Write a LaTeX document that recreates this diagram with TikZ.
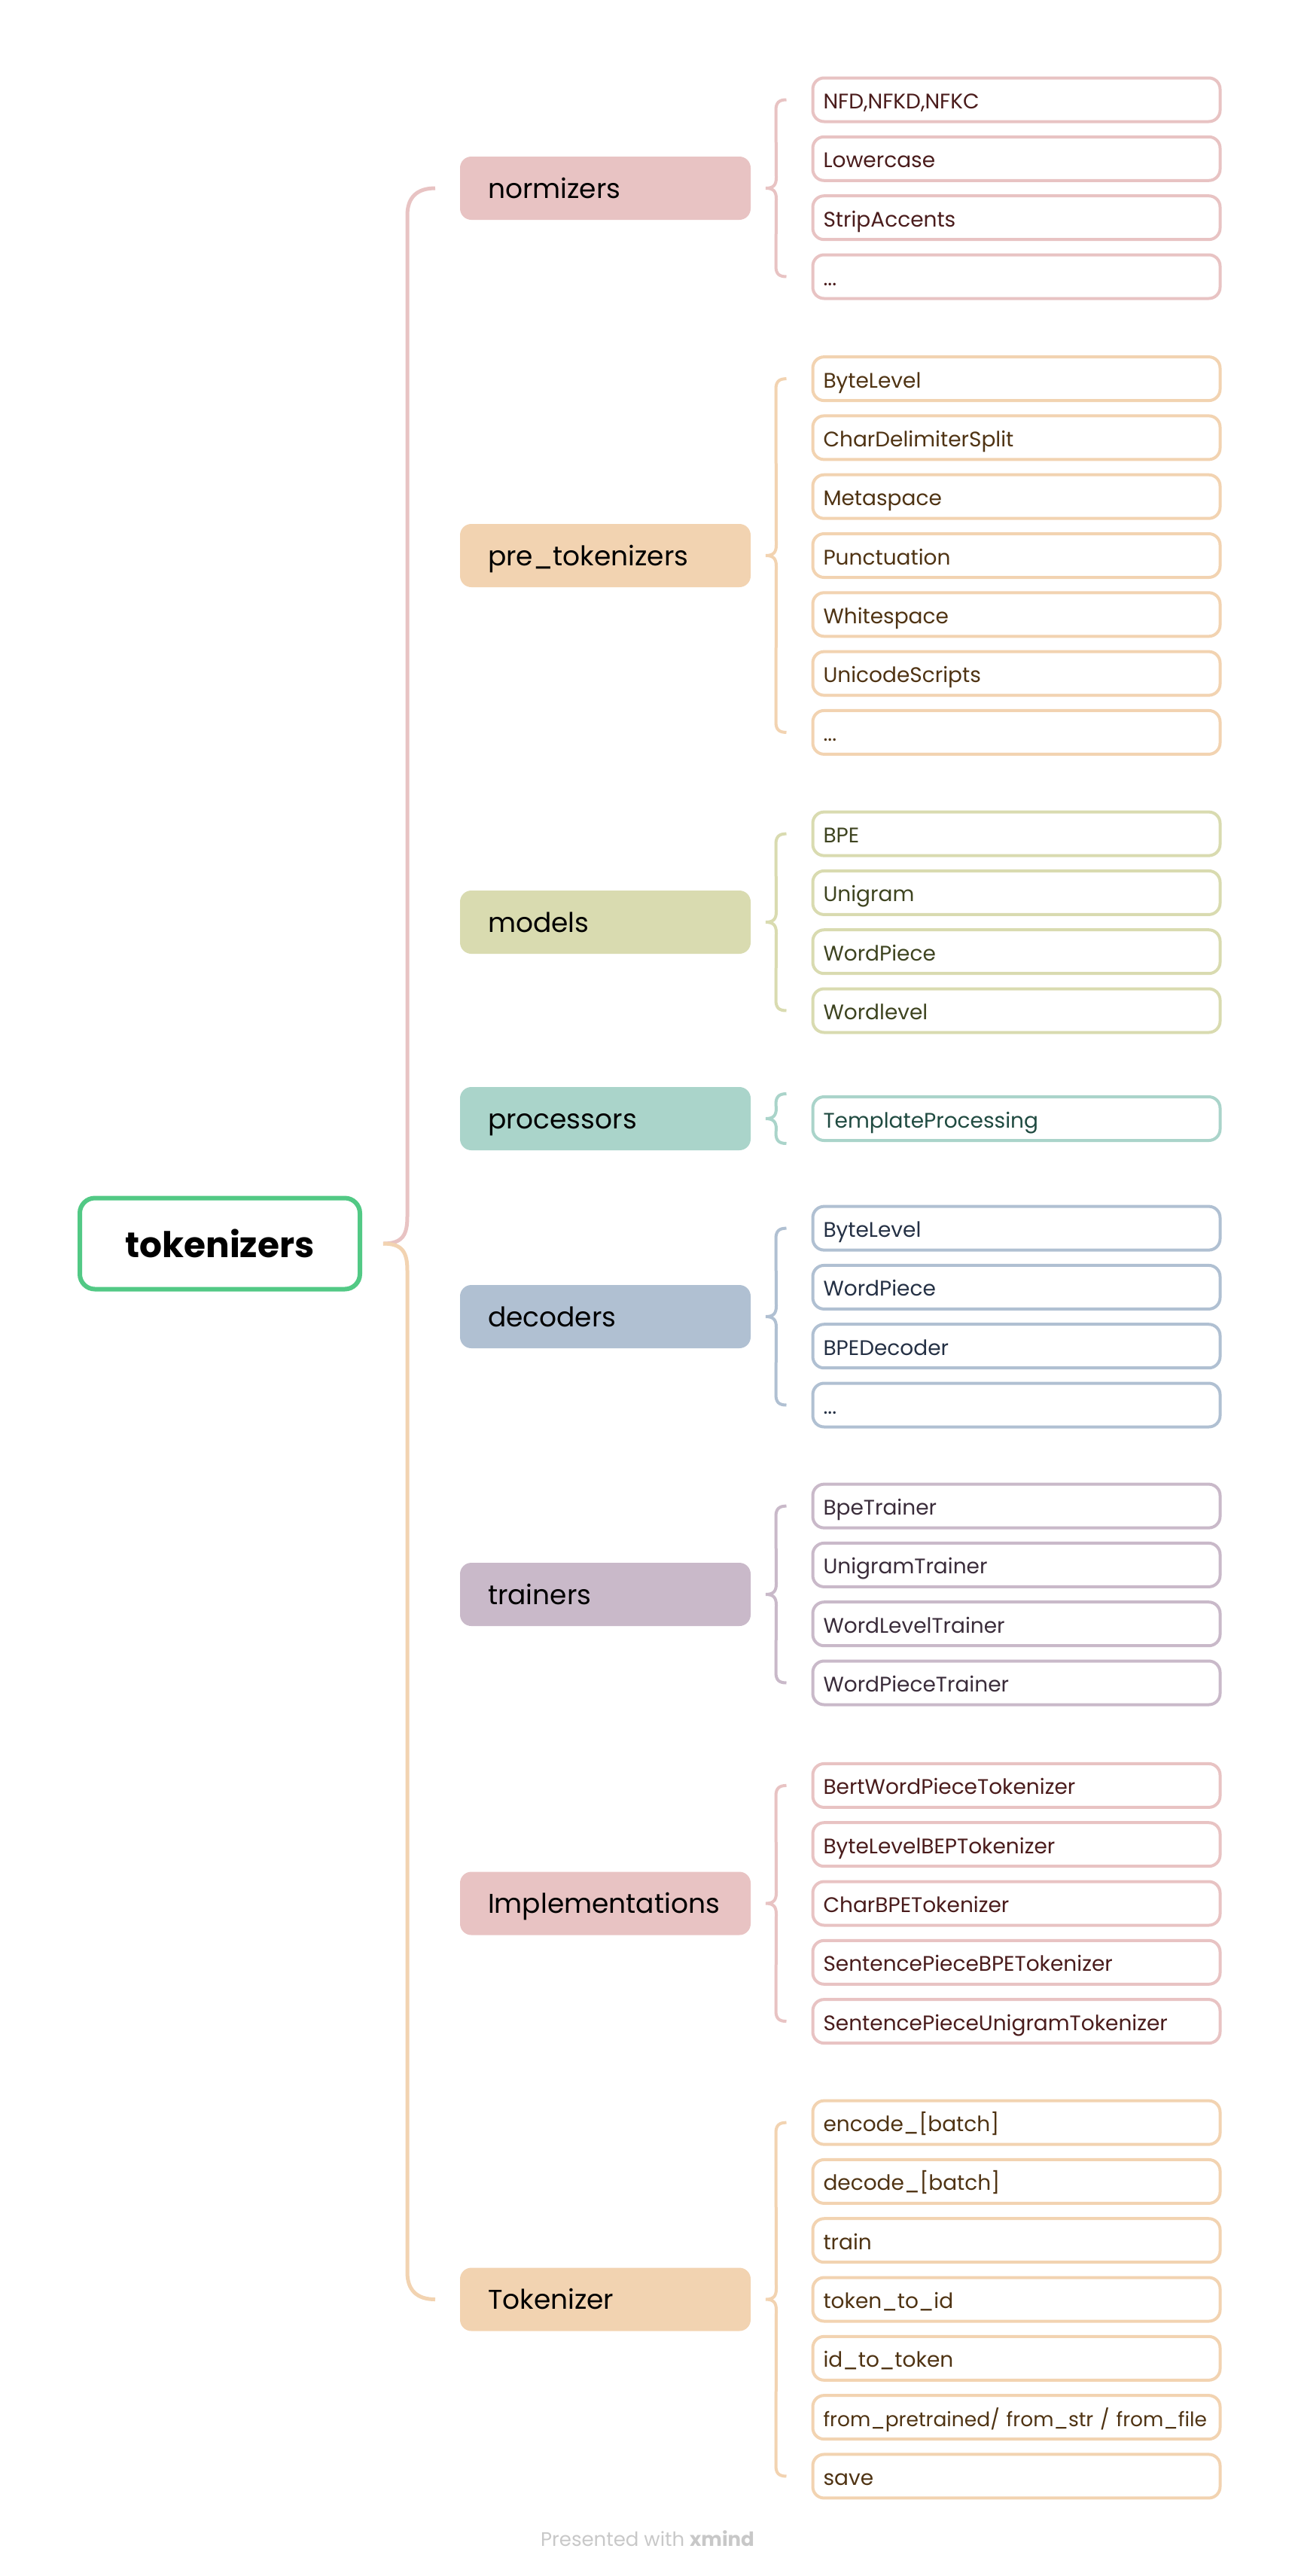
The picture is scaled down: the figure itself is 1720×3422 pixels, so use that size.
\documentclass[tikz,border=0pt]{standalone}
\usepackage{fontspec}
\setmainfont{Poppins}
\usetikzlibrary{calc}

\definecolor{rootgreen}{HTML}{52C985}
\definecolor{normcol}{HTML}{E8C3C3}
\definecolor{normtext}{HTML}{4A1C1C}
\definecolor{precol}{HTML}{F2D3B1}
\definecolor{pretext}{HTML}{4F3313}
\definecolor{modcol}{HTML}{D9DBB0}
\definecolor{modtext}{HTML}{3E4420}
\definecolor{proccol}{HTML}{AAD4CA}
\definecolor{proctext}{HTML}{1F4A40}
\definecolor{deccol}{HTML}{B0C0D2}
\definecolor{dectext}{HTML}{243044}
\definecolor{traincol}{HTML}{C9B9C9}
\definecolor{traintext}{HTML}{3A2C3A}
\definecolor{footgray}{HTML}{C8C8C8}

% brace from a category to its first and last leaf
\newcommand{\leafbrace}[4]{%
  \draw[brace, draw=#1] ($(#3)+(-33,0)$) .. controls +(-10,0) and +(0,-10) .. ($(#3)+(-47,14)$)
    -- ($(#2.east)+(34,-14)$) .. controls +(0,10) and +(10,0) .. ($(#2.east)+(20,0)$)
    .. controls +(10,0) and +(0,-10) .. ($(#2.east)+(34,14)$)
    -- ($(#4)+(-47,-14)$) .. controls +(0,10) and +(-10,0) .. ($(#4)+(-33,0)$);}

\begin{document}
\begin{tikzpicture}[x=1pt, y=-1pt,
  rootbox/.style={draw=rootgreen, line width=6pt, rounded corners=20pt, minimum width=372pt,
    minimum height=121pt, font=\fontsize{47}{56}\selectfont\bfseries},
  catbox/.style={fill=#1, rounded corners=15pt, minimum height=84pt, text width=312pt,
    text height=30pt, text depth=4pt,
    inner xsep=37pt, inner ysep=0pt, outer sep=0pt, align=left, font=\fontsize{36}{42}\selectfont},
  leafbox/.style={draw=#1, fill=white, line width=4pt, rounded corners=15pt, minimum height=58pt,
    text width=513pt, text height=26pt, text depth=2pt,
    inner xsep=14pt, inner ysep=0pt, align=left, font=\fontsize{28}{32}\selectfont},
  trunk/.style={line width=5pt},
  brace/.style={line width=4pt}]
\useasboundingbox (0,0) rectangle (1720,3422);

% root and the main branches
\node[rootbox] (root) at (292,1652) {tokenizers};
\node[catbox=normcol] (norm) at (804,250) {normizers};
\node[catbox=precol] (pretok) at (804,738) {pre\_tokenizers};
\node[catbox=modcol] (models) at (804,1225) {models};
\node[catbox=proccol] (proc) at (804,1486) {processors};
\node[catbox=deccol] (dec) at (804,1749) {decoders};
\node[catbox=traincol] (train) at (804,2118) {trainers};
\node[catbox=normcol] (impl) at (804,2528.5) {Implementations};
\node[catbox=precol] (tokzr) at (804,3054.5) {Tokenizer};

\draw[trunk, draw=normcol] ($(root.east)+(28,0)$) .. controls +(26,0) and +(0,24) .. ($(root.east)+(60,-36)$)
  -- ($(norm.west)+(-70,36)$) .. controls +(0,-24) and +(-24,0) .. ($(norm.west)+(-33,0)$);
\draw[trunk, draw=precol] ($(root.east)+(28,0)$) .. controls +(26,0) and +(0,-24) .. ($(root.east)+(60,36)$)
  -- ($(tokzr.west)+(-70,-36)$) .. controls +(0,24) and +(-24,0) .. ($(tokzr.west)+(-33,0)$);

% normizers
\node[leafbox=normcol, text=normtext] (norm1) at (1350,132.5) {NFD,NFKD,NFKC};
\node[leafbox=normcol, text=normtext] (norm2) at (1350,210.8) {Lowercase};
\node[leafbox=normcol, text=normtext] (norm3) at (1350,289.2) {StripAccents};
\node[leafbox=normcol, text=normtext] (norm4) at (1350,367.5) {...};
\leafbrace{normcol}{norm}{norm1.west}{norm4.west}

% pre_tokenizers
\node[leafbox=precol, text=pretext] (pretok1) at (1350,503.1) {ByteLevel};
\node[leafbox=precol, text=pretext] (pretok2) at (1350,581.4) {CharDelimiterSplit};
\node[leafbox=precol, text=pretext] (pretok3) at (1350,659.7) {Metaspace};
\node[leafbox=precol, text=pretext] (pretok4) at (1350,738.0) {Punctuation};
\node[leafbox=precol, text=pretext] (pretok5) at (1350,816.3) {Whitespace};
\node[leafbox=precol, text=pretext] (pretok6) at (1350,894.6) {UnicodeScripts};
\node[leafbox=precol, text=pretext] (pretok7) at (1350,972.9) {...};
\leafbrace{precol}{pretok}{pretok1.west}{pretok7.west}

% models
\node[leafbox=modcol, text=modtext] (models1) at (1350,1107.6) {BPE};
\node[leafbox=modcol, text=modtext] (models2) at (1350,1185.9) {Unigram};
\node[leafbox=modcol, text=modtext] (models3) at (1350,1264.2) {WordPiece};
\node[leafbox=modcol, text=modtext] (models4) at (1350,1342.5) {Wordlevel};
\leafbrace{modcol}{models}{models1.west}{models4.west}

% processors
\node[leafbox=proccol, text=proctext] (proc1) at (1350,1486) {TemplateProcessing};
\coordinate (proctop) at ($(proc1.west)+(0,-33)$);
\coordinate (procbot) at ($(proc1.west)+(0,33)$);
\leafbrace{proccol}{proc}{proctop}{procbot}

% decoders
\node[leafbox=deccol, text=dectext] (dec1) at (1350,1631.6) {ByteLevel};
\node[leafbox=deccol, text=dectext] (dec2) at (1350,1709.9) {WordPiece};
\node[leafbox=deccol, text=dectext] (dec3) at (1350,1788.2) {BPEDecoder};
\node[leafbox=deccol, text=dectext] (dec4) at (1350,1866.5) {...};
\leafbrace{deccol}{dec}{dec1.west}{dec4.west}

% trainers
\node[leafbox=traincol, text=traintext] (train1) at (1350,2000.6) {BpeTrainer};
\node[leafbox=traincol, text=traintext] (train2) at (1350,2078.9) {UnigramTrainer};
\node[leafbox=traincol, text=traintext] (train3) at (1350,2157.2) {WordLevelTrainer};
\node[leafbox=traincol, text=traintext] (train4) at (1350,2235.5) {WordPieceTrainer};
\leafbrace{traincol}{train}{train1.west}{train4.west}

% Implementations
\node[leafbox=normcol, text=normtext] (impl1) at (1350,2371.9) {BertWordPieceTokenizer};
\node[leafbox=normcol, text=normtext] (impl2) at (1350,2450.2) {ByteLevelBEPTokenizer};
\node[leafbox=normcol, text=normtext] (impl3) at (1350,2528.5) {CharBPETokenizer};
\node[leafbox=normcol, text=normtext] (impl4) at (1350,2606.8) {SentencePieceBPETokenizer};
\node[leafbox=normcol, text=normtext] (impl5) at (1350,2685.1) {SentencePieceUnigramTokenizer};
\leafbrace{normcol}{impl}{impl1.west}{impl5.west}

% Tokenizer
\node[leafbox=precol, text=pretext] (tokzr1) at (1350,2819.6) {encode\_[batch]};
\node[leafbox=precol, text=pretext] (tokzr2) at (1350,2897.9) {decode\_[batch]};
\node[leafbox=precol, text=pretext] (tokzr3) at (1350,2976.2) {train};
\node[leafbox=precol, text=pretext] (tokzr4) at (1350,3054.5) {token\_to\_id};
\node[leafbox=precol, text=pretext] (tokzr5) at (1350,3132.8) {id\_to\_token};
\node[leafbox=precol, text=pretext, font=\fontsize{26.5}{32}\selectfont] (tokzr6) at (1350,3211.1) {from\_pretrained/~from\_str~/~from\_file};
\node[leafbox=precol, text=pretext] (tokzr7) at (1350,3289.4) {save};
\leafbrace{precol}{tokzr}{tokzr1.west}{tokzr7.west}

\node[text=footgray, font=\fontsize{26}{30}\selectfont] (footer) at (860,3372) {Presented with \textbf{xmind}};
\end{tikzpicture}
\end{document}
